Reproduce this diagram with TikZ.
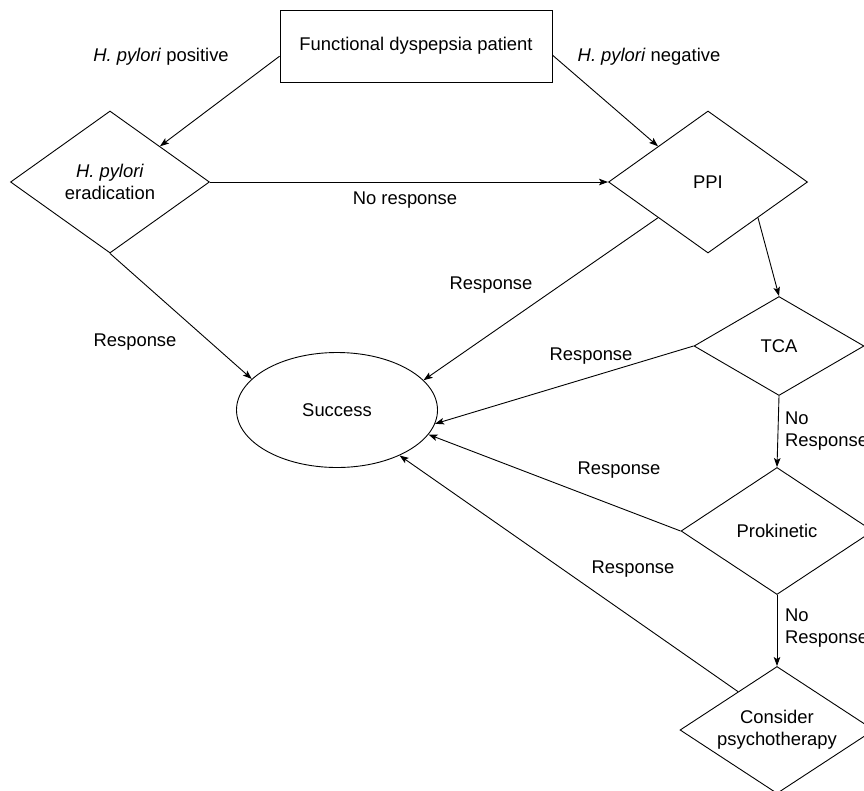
\documentclass[tikz,border=0pt]{standalone}
\usepackage{fontspec}
\setmainfont{Liberation Sans}
\usetikzlibrary{shapes.geometric,arrows.meta,calc}
\begin{document}
\begin{tikzpicture}[x=1pt,y=-1pt,
  every node/.style={font=\fontsize{18.4}{22}\selectfont},
  shp/.style={draw, line width=0.9pt, inner sep=0pt, align=center},
  dia/.style={shp, diamond, aspect=1.5},
  lbl/.style={inner sep=0pt, align=left},
  arr/.style={line width=0.9pt, -{Stealth[length=9pt,width=6.5pt,inset=2pt]}},
]
\clip (0,0) rectangle (864,790);
\node[shp, rectangle, minimum width=272pt, minimum height=72pt] (box) at (416,46) {Functional dyspepsia patient};
\node[dia, minimum width=199pt, minimum height=142pt] (er) at (110,182) {\textit{H. pylori}\\eradication};
\node[dia, minimum width=199pt, minimum height=142pt] (ppi) at (708,182) {PPI};
\node[dia, minimum width=170pt, minimum height=99pt] (tca) at (779,346) {TCA};
\node[dia, minimum width=192pt, minimum height=127pt] (pro) at (777,531) {Prokinetic};
\node[dia, minimum width=194pt, minimum height=127pt] (psy) at (777,730) {Consider\\psychotherapy};
\node[shp, ellipse, minimum width=201pt, minimum height=115pt] (succ) at (337,410) {Success};

\draw[arr] ($(box.west)!0.28!(box.south west)$) -- (er.north east);
\draw[arr] ($(box.east)!0.25!(box.south east)$) -- (ppi.north west);
\draw[arr] (er.east) -- (ppi.west);
\draw[arr] (ppi.south east) -- (tca.north);
\draw[arr] (tca.south) -- (pro.north);
\draw[arr] (pro.south) -- (psy.north);
\draw[arr] (er.south) -- (succ.160);
\draw[arr] (ppi.south west) -- (succ.19);
\draw[arr] (tca.west) -- (succ.-8);
\draw[arr] (pro.west) -- (succ.-15);
\draw[arr] ($(psy.north)!0.4!(psy.west)$) -- (succ.-36);

\node[lbl] (l1) at (161,57) {\textit{H. pylori} positive};
\node[lbl] (l2) at (649,57) {\textit{H. pylori} negative};
\node[lbl] (l3) at (405,200) {No response};
\node[lbl] (l4) at (135,342) {Response};
\node[lbl] (l5) at (491,285) {Response};
\node[lbl] (l6) at (591,356) {Response};
\node[lbl] (l7) at (619,470) {Response};
\node[lbl] (l8) at (633,569) {Response};
\node[lbl, anchor=west] (l9) at (785,431) {No\\Response};
\node[lbl, anchor=west] (l10) at (785,628) {No\\Response};
\end{tikzpicture}
\end{document}
